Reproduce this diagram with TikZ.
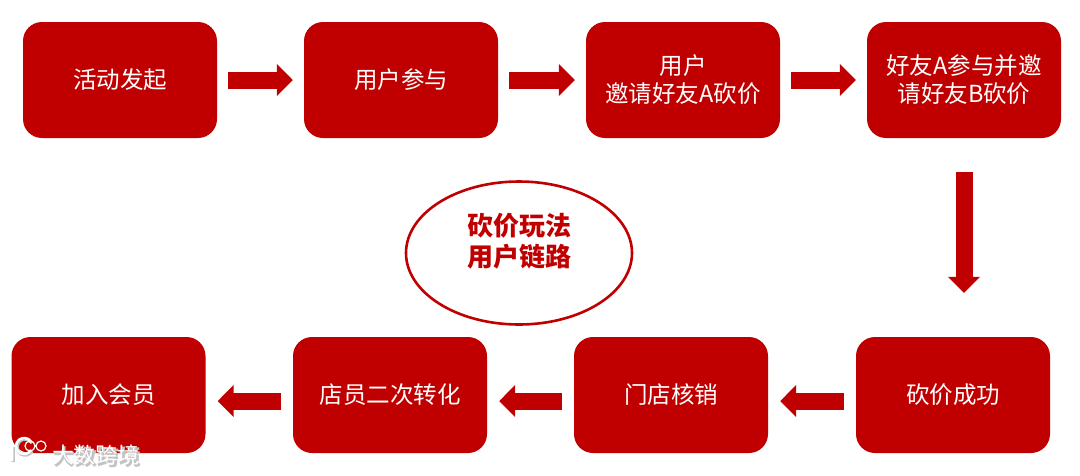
\documentclass[tikz,border=0pt]{standalone}
\usepackage{fontspec}
\setmainfont{Noto Sans CJK SC}
\usetikzlibrary{arrows.meta,shapes.geometric}
\definecolor{brandred}{RGB}{192,0,0}
\definecolor{wmshade}{RGB}{195,195,195}
\tikzset{
  x=1pt,y=-1pt,
  flowbox/.style={fill=brandred,rounded corners=19pt,minimum width=194pt,minimum height=116pt,inner sep=0pt,align=center,text=white,font=\fontsize{23.5}{28}\selectfont},
  blockarrow/.style={draw=brandred,line width=17pt,-{Triangle[length=16pt,width=31pt,fill=brandred]}},
  hubring/.style={draw=brandred,line width=2.600pt,ellipse,minimum width=226pt,minimum height=143pt,inner sep=0pt},
  hubtext/.style={inner sep=0pt,align=center,text=brandred,font=\fontsize{26}{31}\selectfont\bfseries},
}
\begin{document}
\begin{tikzpicture}
\useasboundingbox (0,0) rectangle (1080,475);
\node[flowbox] (a) at (120,80) {活动发起};
\node[flowbox] (b) at (401,80) {用户参与};
\node[flowbox] (c) at (683,80) {用户\\邀请好友A砍价};
\node[flowbox] (d) at (964,80) {好友A参与并邀\\请好友B砍价};
\node[flowbox] (e) at (953,395) {砍价成功};
\node[flowbox] (f) at (671,395) {门店核销};
\node[flowbox] (g) at (390,395) {店员二次转化};
\node[flowbox] (h) at (108.500,395) {加入会员};
\node[hubring] (hub) at (519,253) {};
\node[hubtext] (hubt) at (519,241) {砍价玩法\\用户链路};
\draw[blockarrow,shorten <=11pt,shorten >=11pt] (a) -- (b);
\draw[blockarrow,shorten <=11pt,shorten >=11pt] (b) -- (c);
\draw[blockarrow,shorten <=11pt,shorten >=11pt] (c) -- (d);
\draw[blockarrow,shorten <=34pt,shorten >=44pt] (d.south) -- (d.south |- e.north);
\draw[blockarrow,shorten <=12pt,shorten >=12pt] ([yshift=-6pt]e.west) -- ([yshift=-6pt]f.east);
\draw[blockarrow,shorten <=12pt,shorten >=12pt] ([yshift=-6pt]f.west) -- ([yshift=-6pt]g.east);
\draw[blockarrow,shorten <=12pt,shorten >=12pt] ([yshift=-6pt]g.west) -- ([yshift=-6pt]h.east);
\node[text=wmshade,font=\fontsize{22}{22}\selectfont\bfseries,inner sep=0pt] (wms) at (97,457) {大数跨境};
\node[text=white,font=\fontsize{22}{22}\selectfont,inner sep=0pt] (wm) at (96,455) {大数跨境};
\draw[wmshade,line width=3.500pt] (13,447) -- (13,462) (32,451) arc (30:330:8);
\draw[white,line width=2.500pt] (12,446) -- (12,461) (31,450) arc (30:330:8);
\draw[white,line width=1.200pt] (30,446) circle (5) (41,446) circle (5);
\end{tikzpicture}
\end{document}
